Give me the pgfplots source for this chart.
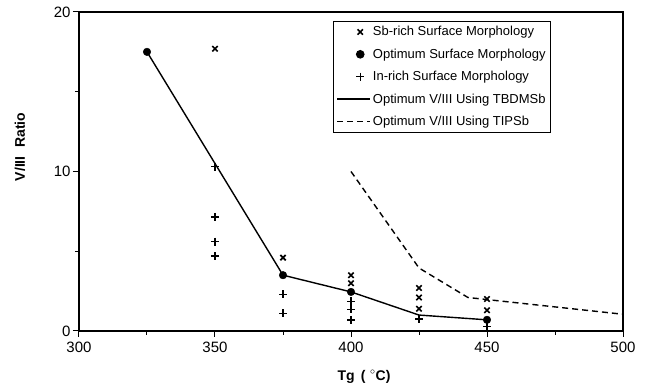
\documentclass[border=0pt]{standalone}
\usepackage{pgfplots}
\pgfplotsset{compat=1.18}
\usepackage{fontspec}
\setmainfont{Liberation Sans}
\pgfplotsset{
  markleg/.style={legend image code/.code={\draw[##1] plot coordinates {(23pt,0pt)};}},
  lineleg/.style={legend image code/.code={\draw[##1] (0pt,0pt) -- (33pt,0pt);}},
}
\begin{document}
\begin{tikzpicture}
\useasboundingbox (-79pt,-56pt) rectangle (569pt,331pt);
\begin{axis}[
  scale only axis,
  width=544pt, height=319pt,
  xmin=300, xmax=500, ymin=0, ymax=20,
  xtick={300,350,400,450,500},
  ytick={0,10,20},
  minor xtick={325,375,425,475},
  minor ytick={5,15},
  xtick pos=bottom, ytick pos=left,
  tick align=outside,
  major tick length=6pt, minor tick length=4pt,
  every tick/.style={black, line width=1pt},
  axis line style={line width=1.6pt},
  /pgf/number format/assume math mode=true,
  /pgf/number format/1000 sep={},
  tick label style={font=\fontsize{15}{17}\selectfont},
  xticklabel style={yshift=-1pt},
  yticklabel style={xshift=1pt},
  xlabel={Tg \,(\,\,\raisebox{0.1ex}{$^\circ$}C)},
  ylabel={V/III\,\, Ratio},
  label style={font=\bfseries\fontsize{14}{16}\selectfont},
  xlabel style={at={(axis description cs:0.524,0)}, anchor=center, yshift=-46pt},
  ylabel style={at={(axis description cs:-0.1085,0.577)}, anchor=center},
  legend style={at={(0.467,0.972)}, anchor=north west, draw=black, line width=1pt,
    font=\fontsize{13}{15.5}\selectfont, row sep=7.5pt, inner xsep=3pt, inner ysep=3pt},
  legend cell align=left,
]
% Sb-rich
\addplot[only marks, mark=x, mark size=3.8pt, line width=1.6pt, black, markleg]
  coordinates {(350,17.7) (375,4.6) (400,3.5) (400,3.0) (425,2.7) (425,2.1) (425,1.4) (450,2.0) (450,1.3)};
\addlegendentry{Sb-rich Surface Morphology}
% Optimum
\addplot[only marks, mark=*, mark size=3.8pt, black, markleg]
  coordinates {(325,17.5) (375,3.5) (400,2.45) (450,0.7)};
\addlegendentry{Optimum Surface Morphology}
% In-rich
\addplot[only marks, mark=+, mark size=4pt, line width=1.4pt, black, markleg]
  coordinates {(350,10.3) (350,7.15) (350,5.6) (350,4.7) (375,2.3) (375,1.1) (400,1.85) (400,1.35) (400,0.7) (425,0.75) (450,0.3)};
\addlegendentry{In-rich Surface Morphology}
% TBDMSb
\addplot[black, line width=1.4pt, mark=none, lineleg]
  coordinates {(325,17.5) (375,3.5) (400,2.45) (425,1.0) (450,0.7)};
\addlegendentry{Optimum V/III Using TBDMSb}
% TIPSb
\addplot[black, line width=1.4pt, mark=none, dash pattern=on 6pt off 4pt, lineleg]
  coordinates {(400,10.0) (425,3.95) (443,2.1) (500,1.05)};
\addlegendentry{Optimum V/III Using TIPSb}
\end{axis}
\end{tikzpicture}
\end{document}
